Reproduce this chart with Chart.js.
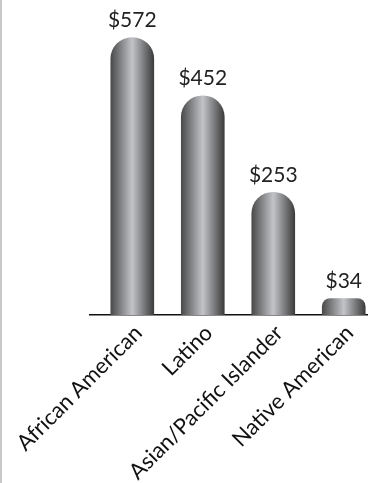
<!DOCTYPE html>
<html>
<head>
<meta charset="utf-8">
<script src="https://cdn.jsdelivr.net/npm/chart.js@4"></script>
<style>
  html, body { margin: 0; padding: 0; background: #fff; }
  #wrap { position: relative; width: 368px; height: 483px; }
  #wrap::before { content: ""; position: absolute; left: 0; top: 0; width: 2px; height: 483px; background: #c8c8c8; }
</style>
</head>
<body>
<div id="wrap"><canvas id="chart" width="368" height="483"></canvas></div>
<script>
const categories = ["African American", "Latino", "Asian/Pacific Islander", "Native American"];
const values = [572, 452, 253, 34];
const valueLabels = ["$572", "$452", "$253", "$34"];

const FONT = "Lato, 'Noto Sans', sans-serif";
const BAR_W = 43;

function barFill(c) {
  const chart = c.chart;
  if (!chart.chartArea) return "#888";
  const x = chart.scales.x.getPixelForValue(c.dataIndex);
  const g = chart.ctx.createLinearGradient(x - BAR_W / 2, 0, x + BAR_W / 2, 0);
  g.addColorStop(0, "#4a4a4a");
  g.addColorStop(0.5, "#c2c4c8");
  g.addColorStop(1, "#3c3c3c");
  return g;
}

const valueLabelPlugin = {
  id: "valueLabels",
  afterDatasetsDraw(chart) {
    const ctx = chart.ctx;
    const meta = chart.getDatasetMeta(0);
    ctx.save();
    ctx.font = "21px " + FONT;
    ctx.fillStyle = "#222";
    ctx.textAlign = "center";
    ctx.textBaseline = "bottom";
    meta.data.forEach((bar, i) => {
      ctx.fillText(valueLabels[i], bar.x, bar.y - 7);
    });
    ctx.restore();
  }
};

new Chart(document.getElementById("chart"), {
  type: "bar",
  data: {
    datasets: [{
      data: values.map((v, i) => ({ x: i, y: v })),
      backgroundColor: barFill,
      barThickness: BAR_W,
      borderRadius: { topLeft: 22, topRight: 22 },
      borderSkipped: "bottom"
    }]
  },
  options: {
    responsive: false,
    animation: false,
    layout: { padding: { left: 90, right: 1, top: 24, bottom: 0 } },
    plugins: { legend: { display: false }, tooltip: { enabled: false } },
    scales: {
      x: {
        type: "linear",
        offset: false,
        min: -0.6,
        max: 3.33,
        grid: { display: false, drawTicks: false, offset: false },
        border: { display: true, color: "#111", width: 1.5 },
        afterBuildTicks: (s) => { s.ticks = categories.map((_, i) => ({ value: i })); },
        afterFit: (s) => { s.paddingLeft = 0; s.paddingRight = 0; s.height = 168; },
        ticks: {
          autoSkip: false,
          minRotation: 45,
          maxRotation: 45,
          padding: 5,
          labelOffset: 6,
          color: "#111",
          font: { family: FONT, size: 22 },
          callback: (v) => categories[v]
        }
      },
      y: {
        display: false,
        min: 0,
        max: 600
      }
    }
  },
  plugins: [valueLabelPlugin]
});
</script>
</body>
</html>
